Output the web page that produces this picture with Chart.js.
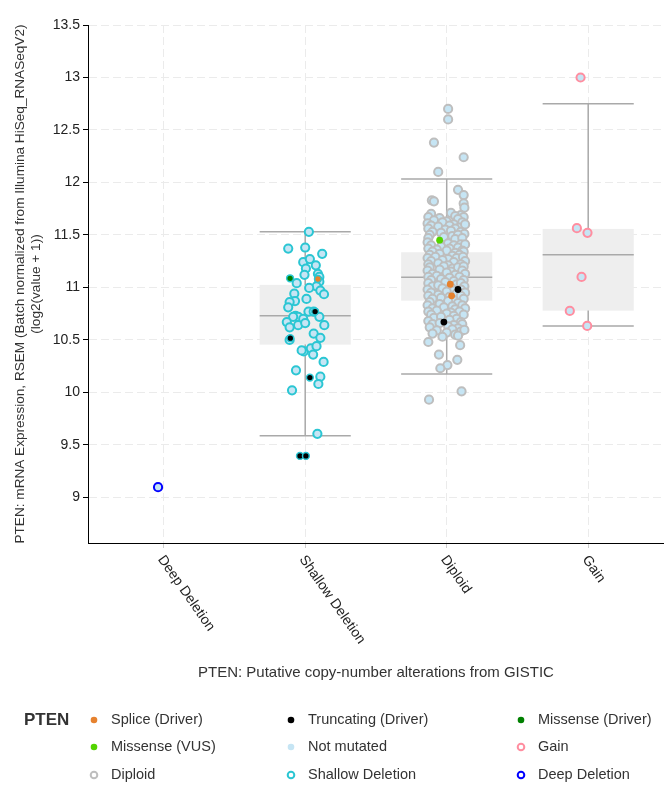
<!DOCTYPE html>
<html>
<head>
<meta charset="utf-8">
<script src="https://cdn.jsdelivr.net/npm/chart.js@4.4.1/dist/chart.umd.min.js"></script>
<style>
  html, body { margin: 0; padding: 0; background: #fff; }
  #wrap { width: 670px; height: 792px; }
</style>
</head>
<body>
<div id="wrap"><canvas id="cnaChart" width="670" height="792"></canvas></div>
<script>
// x categories and their CNA stroke colour
const categories = ['Deep Deletion', 'Shallow Deletion', 'Diploid', 'Gain'];
const cnaStroke = ['#0000ff', '#2bc6d3', '#bebebe', '#ff8ea0'];
const notMutatedFill = '#c6e5f4';

// box stats per category: [low whisker, q1, median, q3, high whisker]
const boxStats = [
  null,
  [9.586, 10.455, 10.729, 11.024, 11.531],
  [10.176, 10.874, 11.097, 11.335, 12.033],
  [10.633, 10.779, 11.31, 11.557, 12.75]
];

// samples without PTEN mutation (value + horizontal jitter)
const deepValues = [9.097];
const deepJitter = [-0.04];

const shallowValues = [
  11.53, 11.37, 11.38, 11.32, 11.24, 11.27, 11.21, 11.18, 11.12, 11.13, 11.10,
  11.04, 11.055, 11.01, 10.995, 10.97, 10.935, 10.94, 10.89, 10.87, 10.86, 10.81,
  10.77, 10.77, 10.72, 10.73, 10.72, 10.72, 10.67, 10.70, 10.64, 10.64, 10.62, 10.66,
  10.50, 10.56, 10.52, 10.39, 10.40, 10.42, 10.44, 10.36, 10.29, 10.21,
  10.15, 10.08, 10.02, 9.605
];
const shallowJitter = [
  0.026, -0.12, 0.0, 0.12, -0.014, 0.033, 0.075, 0.005, -0.005, 0.09, 0.10,
  -0.06, 0.10, 0.08, 0.028, 0.107, 0.133, -0.077, 0.009, -0.072, -0.11, -0.12,
  0.023, 0.06, 0.10, -0.068, -0.05, -0.085, -0.13, -0.014, 0.135, -0.05, -0.11, 0.0,
  -0.11, 0.06, 0.107, -0.01, -0.025, 0.04, 0.08, 0.056, 0.13, -0.065,
  0.107, 0.093, -0.093, 0.086
];

const diploidValues = [
  12.70, 12.60, 12.38, 12.24, 12.10, 11.93, 11.83, 11.82, 11.88, 11.80, 11.76,
  11.70, 11.71, 11.69,
  11.67, 11.66, 11.68, 11.67,
  11.64, 11.63, 11.65,
  11.61, 11.62, 11.60, 11.62,
  11.59, 11.58, 11.59, 11.57, 11.60,
  11.56, 11.55, 11.56,
  11.53, 11.52, 11.54, 11.53, 11.51,
  11.50, 11.49, 11.50,
  11.47, 11.48, 11.46, 11.47,
  11.43, 11.42, 11.41,
  11.40, 11.39, 11.40, 11.38, 11.41,
  11.37, 11.36, 11.37, 11.35,
  11.34, 11.35, 11.33, 11.34,
  11.31, 11.32, 11.30, 11.31,
  11.28, 11.29, 11.27, 11.28, 11.29,
  11.25, 11.26, 11.24, 11.25,
  11.22, 11.23, 11.21, 11.22,
  11.19, 11.20, 11.18, 11.19, 11.20,
  11.16, 11.17, 11.15, 11.16,
  11.13, 11.14, 11.12, 11.13,
  11.10, 11.11, 11.09, 11.10,
  11.07, 11.08, 11.06, 11.07,
  11.04, 11.05, 11.03, 11.04,
  11.01, 11.02, 11.00, 11.01,
  10.98, 10.99, 10.97, 10.98,
  10.95, 10.96, 10.94, 10.95,
  10.92, 10.93, 10.91, 10.92,
  10.89, 10.90, 10.88, 10.89,
  10.86, 10.87, 10.85,
  10.83, 10.84, 10.82, 10.83,
  10.80, 10.81, 10.79, 10.80,
  10.77, 10.78, 10.76, 10.77,
  10.74, 10.75, 10.73, 10.74,
  10.71, 10.72, 10.70,
  10.68, 10.69, 10.67,
  10.65, 10.66, 10.64, 10.65,
  10.62, 10.63, 10.61,
  10.59, 10.60, 10.58,
  10.56, 10.57, 10.55,
  10.53, 10.54,
  10.595, 10.48, 10.45, 10.36, 10.31, 10.26, 10.23, 10.01, 9.93
];
const diploidJitter = [
  0.01, 0.01, -0.09, 0.12, -0.06, 0.08, -0.105, -0.09, 0.12, 0.12, 0.125,
  -0.11, 0.03, 0.10,
  -0.13, -0.05, 0.06, 0.12,
  -0.09, 0.00, 0.08,
  -0.135, -0.03, 0.05, 0.11,
  -0.11, -0.06, 0.02, 0.09, 0.13,
  -0.13, -0.01, 0.06,
  -0.10, -0.04, 0.03, 0.10, 0.125,
  -0.12, 0.04, 0.08,
  -0.13, -0.02, 0.06, 0.11,
  -0.135, 0.01, 0.10,
  -0.11, -0.04, 0.05, 0.08, 0.13,
  -0.13, -0.07, 0.02, 0.11,
  -0.10, 0.00, 0.06, 0.12,
  -0.12, -0.05, 0.04, 0.09,
  -0.135, -0.08, 0.01, 0.07, 0.115,
  -0.11, -0.03, 0.05, 0.13,
  -0.13, -0.06, 0.01, 0.10,
  -0.12, -0.02, 0.04, 0.08, 0.12,
  -0.135, -0.05, 0.03, 0.11,
  -0.10, 0.00, 0.06, 0.13,
  -0.13, -0.07, 0.02, 0.09,
  -0.11, -0.04, 0.05, 0.12,
  -0.13, -0.01, 0.07, 0.10,
  -0.10, -0.06, 0.03, 0.125,
  -0.135, -0.03, 0.05, 0.10,
  -0.11, 0.00, 0.07, 0.13,
  -0.13, -0.06, 0.02, 0.10,
  -0.10, -0.04, 0.05, 0.12,
  -0.12, 0.01, 0.08,
  -0.135, -0.05, 0.04, 0.11,
  -0.10, -0.02, 0.06, 0.13,
  -0.13, -0.07, 0.03, 0.09,
  -0.11, 0.00, 0.05, 0.12,
  -0.09, -0.04, 0.07,
  -0.13, 0.02, 0.10,
  -0.10, -0.05, 0.05, 0.11,
  -0.12, 0.01, 0.08,
  -0.07, 0.04, 0.10,
  -0.10, 0.00, 0.06,
  -0.03, 0.08,
  0.125, -0.13, 0.095, -0.055, 0.075, 0.005, -0.045, 0.105, -0.125
];

const gainValues = [13.0, 11.564, 11.52, 11.10, 10.776, 10.633];
const gainJitter = [-0.054, -0.08, -0.005, -0.047, -0.13, -0.007];

// mutated samples (type index into mutationTypes)
const mutationTypes = ['Splice (Driver)', 'Truncating (Driver)', 'Missense (Driver)', 'Missense (VUS)'];
const mutationColors = ['#e6822f', '#000000', '#008000', '#53d400'];
const shallowMutValues = [11.087, 11.08, 10.77, 10.516, 10.141, 9.395, 9.395];
const shallowMutJitter = [-0.107, 0.09, 0.07, -0.105, 0.033, -0.037, 0.005];
const shallowMutType = [2, 0, 1, 1, 1, 1, 1];
const diploidMutValues = [11.45, 11.03, 10.98, 10.92, 10.67];
const diploidMutJitter = [-0.05, 0.025, 0.08, 0.035, -0.02];
const diploidMutType = [3, 0, 1, 0, 1];

// legend entries (ring = open circle marker)
const legendLabels = ['Splice (Driver)', 'Truncating (Driver)', 'Missense (Driver)',
  'Missense (VUS)', 'Not mutated', 'Gain', 'Diploid', 'Shallow Deletion', 'Deep Deletion'];
const legendColors = ['#e6822f', '#000000', '#008000', '#53d400', notMutatedFill,
  '#ff8ea0', '#bebebe', '#2bc6d3', '#0000ff'];
const legendRing = [false, false, false, false, false, true, true, true, true];

const yTitle = ['PTEN: mRNA Expression, RSEM (Batch normalized from Illumina HiSeq_RNASeqV2)',
  '(log2(value + 1))'];
const xTitle = 'PTEN: Putative copy-number alterations from GISTIC';
const legendTitle = 'PTEN';

const FONT = '"Liberation Sans", Arial, Helvetica, sans-serif';
Chart.defaults.font.family = FONT;

function toPoints(values, jitter, cat) {
  return values.map((v, i) => ({ x: cat + jitter[i], y: v }));
}

function plainSet(values, jitter, cat) {
  return {
    data: toPoints(values, jitter, cat),
    backgroundColor: notMutatedFill,
    borderColor: cnaStroke[cat],
    borderWidth: 2,
    pointRadius: 4.1,
    order: 2
  };
}

function mutSet(values, jitter, types, cat, ring) {
  return {
    data: toPoints(values, jitter, cat),
    backgroundColor: types.map(t => mutationColors[t]),
    borderColor: cnaStroke[cat],
    borderWidth: ring,
    pointRadius: 3.4,
    order: 1
  };
}

const boxHalf = 0.322;

// draws the grey boxes + whiskers under the points
const boxPlugin = {
  id: 'boxes',
  beforeDatasetsDraw(chart) {
    const { ctx, scales: { x, y } } = chart;
    boxStats.forEach((s, i) => {
      if (!s) return;
      const x0 = x.getPixelForValue(i - boxHalf);
      const x1 = x.getPixelForValue(i + boxHalf);
      const xc = x.getPixelForValue(i);
      const py = s.map(v => y.getPixelForValue(v));
      ctx.save();
      ctx.fillStyle = '#eeeeee';
      ctx.fillRect(x0, py[3], x1 - x0, py[1] - py[3]);
      ctx.strokeStyle = '#a9a9a9';
      ctx.lineWidth = 1.5;
      ctx.beginPath();
      ctx.moveTo(xc, py[4]); ctx.lineTo(xc, py[3]);
      ctx.moveTo(xc, py[1]); ctx.lineTo(xc, py[0]);
      ctx.moveTo(x0, py[4]); ctx.lineTo(x1, py[4]);
      ctx.moveTo(x0, py[0]); ctx.lineTo(x1, py[0]);
      ctx.moveTo(x0, py[2]); ctx.lineTo(x1, py[2]);
      ctx.stroke();
      ctx.restore();
    });
  }
};

// rotated category labels, x title and the legend block
const labelPlugin = {
  id: 'labels',
  afterDraw(chart) {
    const { ctx, scales: { x } } = chart;
    ctx.save();
    ctx.fillStyle = '#222';
    ctx.font = '14px ' + FONT;
    ctx.textAlign = 'left';
    ctx.textBaseline = 'middle';
    categories.forEach((c, i) => {
      ctx.save();
      ctx.translate(x.getPixelForValue(i) - 3, x.top + 14);
      ctx.rotate(55 * Math.PI / 180);
      ctx.fillText(c, 0, 0);
      ctx.restore();
    });

    ctx.fillStyle = '#333';
    ctx.font = '15px ' + FONT;
    ctx.textAlign = 'center';
    ctx.fillText(xTitle, (chart.chartArea.left + chart.chartArea.right) / 2, 673);

    // legend
    ctx.textAlign = 'left';
    ctx.fillStyle = '#333';
    ctx.font = 'bold 17px ' + FONT;
    ctx.fillText(legendTitle, 24, 720);
    const colX = [94, 291, 521];
    const rowY = [720, 747, 775];
    ctx.font = '14.5px ' + FONT;
    legendLabels.forEach((lab, i) => {
      const cx = colX[i % 3], cy = rowY[Math.floor(i / 3)];
      ctx.beginPath();
      ctx.arc(cx, cy, 3.3, 0, Math.PI * 2);
      if (legendRing[i]) {
        ctx.fillStyle = '#fff';
        ctx.fill();
        ctx.strokeStyle = legendColors[i];
        ctx.lineWidth = 2;
        ctx.stroke();
      } else {
        ctx.fillStyle = legendColors[i];
        ctx.fill();
      }
      ctx.fillStyle = '#333';
      ctx.fillText(lab, cx + 17, cy);
    });
    ctx.restore();
  }
};

const ctx = document.getElementById('cnaChart').getContext('2d');
const cnaChart = new Chart(ctx, {
  type: 'scatter',
  data: {
    datasets: [
      mutSet(shallowMutValues, shallowMutJitter, shallowMutType, 1, 1.5),
      mutSet(diploidMutValues, diploidMutJitter, diploidMutType, 2, 0),
      plainSet(deepValues, deepJitter, 0),
      plainSet(shallowValues, shallowJitter, 1),
      plainSet(diploidValues, diploidJitter, 2),
      plainSet(gainValues, gainJitter, 3)
    ]
  },
  options: {
    responsive: false,
    animation: false,
    events: [],
    layout: { padding: { top: 25, right: 3, left: 0, bottom: 0 } },
    plugins: {
      legend: { display: false },
      tooltip: { enabled: false }
    },
    scales: {
      x: {
        type: 'linear',
        min: -0.535,
        max: 3.535,
        ticks: { stepSize: 1, includeBounds: false, display: false },
        grid: { color: '#ebebeb', tickColor: '#cccccc', tickLength: 5 },
        border: { color: '#000', width: 1, dash: [8, 4] },
        afterFit(scale) { scale.height = 249; }
      },
      y: {
        min: 8.565,
        max: 13.5,
        ticks: {
          stepSize: 0.5,
          includeBounds: false,
          color: '#222',
          padding: 3,
          font: { size: 14 },
          callback: v => String(+v.toFixed(1))
        },
        grid: { color: '#ebebeb', tickColor: '#000', tickLength: 5 },
        border: { color: '#000', width: 1, dash: [8, 4] },
        title: {
          display: true,
          text: yTitle,
          color: '#333',
          font: { size: 13.6 },
          padding: { top: 12, bottom: 0 }
        },
        afterFit(scale) { scale.width = 88; }
      }
    }
  },
  plugins: [boxPlugin, labelPlugin]
});
</script>
</body>
</html>
